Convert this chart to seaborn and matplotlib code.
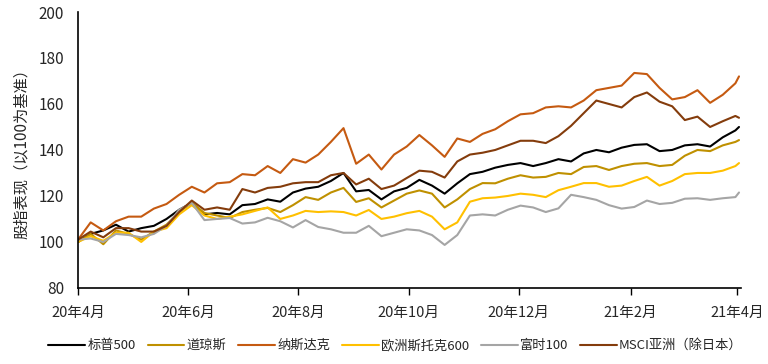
import pandas as pd
import matplotlib.pyplot as plt
import seaborn as sns

# 周度读数，2020-04-01 起每 7 天一个点，最后一个点为 2021-04-02
dates = list(pd.date_range("2020-04-01", periods=53, freq="7D")) + [pd.Timestamp("2021-04-02")]

sp500 = [100, 103.5, 105, 107.5, 104.5, 106, 107, 110, 114, 117, 112, 112.6, 112, 116, 116.5,
         118.5, 117.5, 121.5, 123.2, 124, 126.5, 130, 122, 122.6, 118.5, 122, 123.5, 127, 124.5,
         121, 125.5, 129.5, 130.5, 132.3, 133.5, 134.3, 133, 134.3, 136, 135, 138.5, 140, 139,
         141, 142.2, 142.5, 139.5, 140, 142, 142.5, 141.5, 145.5, 148.5, 150]
dow = [100, 103.5, 99, 105, 103.5, 101, 104.5, 107.5, 113, 117, 112.6, 111.5, 110.4, 113, 114,
       114.8, 113, 116, 119.5, 118.3, 121.5, 123.5, 117.4, 119, 115, 118, 121, 122.4, 121, 115,
       118.5, 123, 125.6, 125.5, 127.5, 129, 128, 128.3, 130, 129.5, 132.6, 133, 131.3, 133, 134,
       134.3, 133, 133.5, 137.5, 140, 139.5, 142, 143.5, 144.3]
nasdaq = [101, 108.5, 105, 109, 111, 111, 114.5, 116.5, 120.5, 124, 121.5, 125.5, 126, 129.5,
          129, 133, 130, 136, 134.5, 138, 143.5, 149.5, 134, 138, 131.5, 138, 141.5, 146.5, 142,
          137, 145, 143.5, 147, 149, 152.5, 155.5, 156, 158.5, 159, 158.5, 161.5, 166, 167, 168,
          173.5, 173, 167, 162, 163, 166, 160.5, 164, 169, 172]
stoxx = [100, 102.5, 100.5, 104, 104, 100, 104.5, 106, 112, 116, 111.5, 110, 111, 112, 113.5,
         115, 110, 111.5, 113.5, 113, 113.3, 113, 111.5, 113.9, 110, 111, 112.5, 113.5, 111,
         105.5, 108.5, 117.5, 119, 119.3, 120, 121, 120.5, 119.5, 122.5, 124, 125.6, 125.6, 124,
         124.5, 126.5, 128.3, 124.5, 126.5, 129.5, 130, 130, 131, 133, 134.3]
ftse = [101, 101.5, 100, 103.5, 103, 102, 103.5, 107, 114, 117, 109.5, 110, 110.4, 108, 108.5,
        110.5, 109, 106.3, 109.5, 106.5, 105.5, 104, 104, 107, 102.5, 104, 105.5, 105, 103, 98.7,
        103, 111.5, 112, 111.5, 114, 115.8, 115, 113, 114.6, 120.5, 119.5, 118.3, 116, 114.5,
        115.2, 118, 116.5, 117, 118.8, 119, 118.3, 119, 119.5, 121.5]
msci_asia = [101, 104.5, 102, 106, 106, 104.5, 104.5, 107, 113, 118, 114, 115, 114, 123, 121.5,
             123.5, 124, 125.5, 126, 126, 129, 130, 125, 127.5, 123, 124.5, 127.8, 131, 130.5,
             128, 135, 138, 138.8, 140, 142, 144, 144, 143, 146, 150.5, 156, 161.5, 160, 158.5,
             163, 165, 161, 159, 153, 154.5, 150, 152.5, 154.8, 154]

names = ["标普500", "道琼斯", "纳斯达克", "欧洲斯托克600", "富时100", "MSCI亚洲（除日本）"]
colors = ["#000000", "#BF9000", "#C55A11", "#FFC000", "#A5A5A5", "#843C0C"]

df = pd.DataFrame({"日期": dates, names[0]: sp500, names[1]: dow, names[2]: nasdaq,
                   names[3]: stoxx, names[4]: ftse, names[5]: msci_asia})
df_long = df.melt(id_vars="日期", var_name="指数", value_name="值")

sns.set_style("ticks")
plt.rcParams['font.family'] = ['Noto Sans CJK SC', 'DejaVu Sans']

fig = plt.figure(figsize=(7.68, 3.64), dpi=100)
ax = fig.add_axes([0.1016, 0.209, 0.863, 0.758])

sns.lineplot(data=df_long, x="日期", y="值", hue="指数", hue_order=names,
             palette=colors, linewidth=1.5, legend=False, ax=ax)

ax.set_ylim(80, 200)
ax.set_yticks(range(80, 201, 20))
ax.set_xlim(pd.Timestamp("2020-04-01"), pd.Timestamp("2021-04-03"))
ticks = pd.to_datetime(["2020-04-01", "2020-06-01", "2020-08-01", "2020-10-01",
                        "2020-12-01", "2021-02-01", "2021-04-01"])
ax.set_xticks(ticks)
ax.set_xticklabels([f"{d.year % 100}年{d.month}月" for d in ticks])
ax.tick_params(axis="x", length=5, width=1, pad=8, labelsize=10.5, color="black")
ax.tick_params(axis="y", length=0, pad=10, labelsize=11)
ax.set_xlabel("")
ax.set_ylabel("股指表现（以100为基准）", fontsize=11, labelpad=6)
for s in ["left", "bottom"]:
    ax.spines[s].set_color("black")
    ax.spines[s].set_linewidth(1.2)
sns.despine(ax=ax)

handles = ax.get_lines()[:len(names)]
fig.legend(handles, names, loc="lower center", bbox_to_anchor=(0.515, 0.0), ncol=6,
           frameon=False, fontsize=9.5, handlelength=2.8, handletextpad=0.15,
           columnspacing=0.9)

fig.savefig("out.png", dpi=100)
